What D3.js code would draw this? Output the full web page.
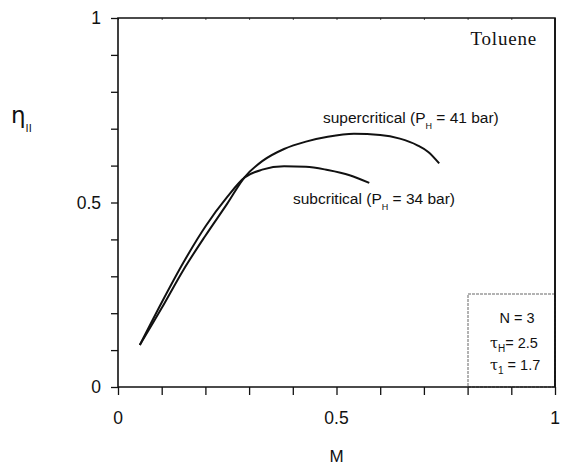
<!DOCTYPE html>
<html lang="en">
    <head>
        <meta charset="utf-8">
        <title>D3</title>
        <script type="text/javascript" src="https://cdnjs.cloudflare.com/ajax/libs/d3/7.8.5/d3.min.js"></script>
        <style type="text/css">
            html, body { margin: 0; background: #fff; overflow: hidden; }
            svg { display: block; }
        </style>
    </head>
    <body>
        <script type="text/javascript">
            var w = 563;
            var h = 466;
            var sans = "'Liberation Sans', Arial, sans-serif";

            var xTicks = [0, 0.5, 1];
            var yTicks = [0, 0.5, 1];
            var subM   = [0.05, 0.10, 0.15, 0.20, 0.25, 0.29, 0.33, 0.38, 0.43, 0.48, 0.53, 0.575];
            var subEta = [0.114, 0.229, 0.338, 0.435, 0.515, 0.568, 0.589, 0.598, 0.597, 0.588, 0.574, 0.553];
            var supM   = [0.05, 0.10, 0.15, 0.20, 0.25, 0.29, 0.33, 0.38, 0.43, 0.48, 0.54, 0.60, 0.645, 0.685, 0.71, 0.735];
            var supEta = [0.114, 0.214, 0.318, 0.410, 0.497, 0.569, 0.612, 0.645, 0.665, 0.678, 0.686, 0.683, 0.673, 0.655, 0.637, 0.606];

            var x = d3.scaleLinear().domain([0, 1]).range([118, 555]);
            var y = d3.scaleLinear().domain([0, 1]).range([387, 18]);

            var svg = d3.select("body")
                        .append("svg")
                        .attr("width", w)
                        .attr("height", h)
                        .style("font-family", sans);

            var minor = d3.range(0, 1.0001, 0.1);

            var xAxis = svg.append("g")
               .attr("transform", "translate(0," + y(0) + ")")
               .call(d3.axisBottom(x).tickValues(minor).tickSize(8).tickFormat(""));
            var yAxis = svg.append("g")
               .attr("transform", "translate(" + x(0) + ",0)")
               .call(d3.axisLeft(y).tickValues(minor).tickSize(7).tickFormat(""));
            [xAxis, yAxis].forEach(function (g) {
                g.select(".domain").remove();
                g.selectAll("line").attr("stroke", "#111").attr("stroke-width", 1.3);
            });

            // small ticks along the top
            svg.append("g")
               .attr("transform", "translate(0," + y(1) + ")")
               .call(d3.axisTop(x).tickValues(minor).tickSizeInner(-2).tickSizeOuter(0).tickFormat(""))
               .call(function (g) { g.select(".domain").remove(); g.selectAll("line").attr("stroke", "#555"); });

            svg.selectAll("text.xl")
               .data(xTicks)
               .enter()
               .append("text")
               .attr("class", "xl")
               .attr("x", function (d) { return x(d); })
               .attr("y", 424)
               .attr("text-anchor", "middle")
               .attr("font-size", "17.5px")
               .attr("fill", "#111")
               .text(function (d) { return d; });

            svg.selectAll("text.yl")
               .data(yTicks)
               .enter()
               .append("text")
               .attr("class", "yl")
               .attr("x", 101)
               .attr("y", function (d) { return y(d) + 6; })
               .attr("text-anchor", "end")
               .attr("font-size", "17.5px")
               .attr("fill", "#111")
               .text(function (d) { return d; });

            svg.append("text")
               .attr("x", x(0.5)).attr("y", 462)
               .attr("text-anchor", "middle")
               .attr("font-size", "17px")
               .attr("fill", "#111")
               .text("M");

            var eta = svg.append("text")
               .attr("x", 11).attr("y", 123)
               .attr("fill", "#111")
               .style("font-family", "'DejaVu Sans'")
               .attr("font-size", "23px");
            eta.append("tspan").text("η");
            eta.append("tspan").attr("dy", 9).attr("font-size", "11px")
               .style("font-family", sans).text("II");

            // curves
            var line = d3.line()
                .x(function (d) { return x(d[0]); })
                .y(function (d) { return y(d[1]); })
                .curve(d3.curveMonotoneX);

            var sub = subM.map(function (m, i) { return [m, subEta[i]]; });
            var sup = supM.map(function (m, i) { return [m, supEta[i]]; });

            svg.selectAll("path.curve")
               .data([sub, sup])
               .enter()
               .append("path")
               .attr("class", "curve")
               .attr("d", line)
               .attr("fill", "none")
               .attr("stroke", "#111")
               .attr("stroke-width", 2);

            function label(tx, ty, pre, post) {
                var t = svg.append("text").attr("x", tx).attr("y", ty)
                           .attr("font-size", "15.5px").attr("fill", "#111");
                t.append("tspan").text(pre);
                t.append("tspan").attr("dy", 6).attr("font-size", "9px").text("H");
                t.append("tspan").attr("dy", -6).text(post);
            }
            label(323, 123, "supercritical (P", " = 41 bar)");
            label(293, 204, "subcritical (P", " = 34 bar)");

            svg.append("text")
               .attr("x", 537).attr("y", 45)
               .attr("text-anchor", "end")
               .style("font-family", "'Liberation Serif', 'DejaVu Serif', serif")
               .style("letter-spacing", "0.8px")
               .attr("font-size", "19px")
               .attr("fill", "#111")
               .text("Toluene");

            // parameter box
            svg.append("rect")
               .attr("x", 468).attr("y", 294)
               .attr("width", x(1) - 468).attr("height", y(0) - 294)
               .attr("fill", "none").attr("stroke", "#666")
               .attr("stroke-width", 1).attr("stroke-dasharray", "3,1");

            svg.append("text")
               .attr("x", 517).attr("y", 323)
               .attr("text-anchor", "middle")
               .attr("font-size", "14.5px")
               .attr("fill", "#111")
               .text("N = 3");

            function tau(ty, s, rest) {
                var t = svg.append("text").attr("x", 490).attr("y", ty)
                           .attr("font-size", "14.5px").attr("fill", "#111");
                t.append("tspan").style("font-family", "'DejaVu Serif'").text("τ");
                t.append("tspan").attr("dy", 4).attr("font-size", "10px").text(s);
                t.append("tspan").attr("dy", -4).text(rest);
            }
            tau(348, "H", "= 2.5");
            tau(370, "1", "  = 1.7");

            // frame
            svg.append("path")
               .attr("d", "M" + x(0) + "," + y(0) + "L" + x(1) + "," + y(0) + "L" + x(1) + "," + y(1) +
                          "L" + x(0) + "," + y(1) + "Z")
               .attr("fill", "none")
               .attr("stroke", "#111")
               .attr("stroke-width", 1.6);
            // right spine also as a filled strip
            svg.append("rect")
               .attr("x", x(1) - 0.8).attr("y", y(1))
               .attr("width", 1.6).attr("height", y(0) - y(1))
               .attr("fill", "#111");
        </script>
    </body>
</html>
